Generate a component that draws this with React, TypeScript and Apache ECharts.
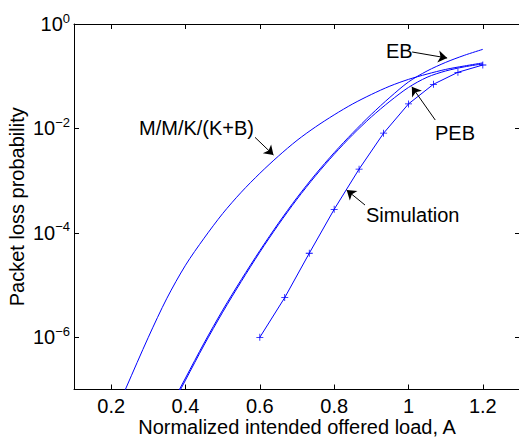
import React, { useEffect, useRef } from "react";
import * as echarts from "echarts";

// Normalized intended offered load (x) and packet loss probability (y)
const loadMMK = [0.22, 0.24, 0.3, 0.35, 0.4, 0.45, 0.5, 0.55, 0.6, 0.65, 0.7, 0.75, 0.8, 0.85, 0.9, 0.95, 1.0, 1.05, 1.1, 1.15, 1.2];
const lossMMK = [5.0e-8, 1.07e-7, 1.0e-6, 5.6e-6, 2.4e-5, 7.9e-5, 2.34e-4, 6.0e-4, 1.38e-3, 2.95e-3, 5.9e-3, 1.07e-2, 1.82e-2, 2.95e-2, 4.47e-2, 6.46e-2, 8.7e-2, 0.11, 0.135, 0.157, 0.18];

const loadEB = [0.37, 0.38, 0.4, 0.45, 0.5, 0.55, 0.6, 0.65, 0.7, 0.75, 0.8, 0.85, 0.9, 0.95, 1.0, 1.05, 1.1, 1.15, 1.2];
const lossEB = [6.3e-8, 8.9e-8, 1.66e-7, 7.76e-7, 3.31e-6, 1.27e-5, 4.57e-5, 1.53e-4, 4.73e-4, 1.33e-3, 3.43e-3, 8.22e-3, 1.86e-2, 3.94e-2, 7.76e-2, 0.126, 0.184, 0.251, 0.327];

const loadPEB = [0.37, 0.38, 0.4, 0.45, 0.5, 0.55, 0.6, 0.65, 0.7, 0.75, 0.8, 0.85, 0.9, 0.95, 1.0, 1.05, 1.1, 1.15, 1.2];
const lossPEB = [5.6e-8, 8.1e-8, 1.51e-7, 7.1e-7, 3.02e-6, 1.17e-5, 4.27e-5, 1.43e-4, 4.42e-4, 1.24e-3, 3.2e-3, 7.6e-3, 1.66e-2, 3.31e-2, 6.1e-2, 9.55e-2, 0.126, 0.151, 0.172];

const loadSim = [0.6, 0.667, 0.733, 0.8, 0.867, 0.933, 1.0, 1.067, 1.133, 1.2];
const lossSim = [1.0e-6, 5.75e-6, 4.07e-5, 2.82e-4, 1.66e-3, 8.1e-3, 2.95e-2, 7.0e-2, 0.119, 0.164];

// Annotation arrows: [fromLoad, fromLoss, toLoad, toLoss]
const arrowEB = [1.0098, 0.291, 1.104, 0.223];
const arrowPEB = [1.072, 0.01449, 1.009, 0.0629];
const arrowMMK = [0.587, 0.00675, 0.6367, 0.00309];
const arrowSim = [0.883, 3.41e-4, 0.8336, 6.6e-4];

const FONT = "'Liberation Sans', Arial, Helvetica, sans-serif";
const BLUE = "#0000ff";
const PLUS = "path://M4,0 L5,0 L5,4 L9,4 L9,5 L5,5 L5,9 L4,9 L4,5 L0,5 L0,4 L4,4 Z";

const zip = (xs: number[], ys: number[]) => xs.map((x, i) => [x, ys[i]]);
const arrow = (a: number[]) => [{ coord: [a[0], a[1]] }, { coord: [a[2], a[3]] }];

export default function App() {
  const ref = useRef<HTMLDivElement>(null);
  useEffect(() => {
    const chart = echarts.init(ref.current!, null, { renderer: "svg" });
    const axisLine = { show: true, onZero: false, lineStyle: { color: "#000", width: 1 } };
    const axisTick = { show: true, inside: true, length: 5, lineStyle: { color: "#000", width: 1 } };
    const expLabel = (v: number) => {
      const e = Math.round(Math.log10(v));
      if (e % 2 !== 0) return "";
      return `{b|10}{e|${e < 0 ? "\u2212" + -e : e}}`;
    };
    const option: any = {
      animation: false,
      grid: { left: 74, top: 24, width: 446, height: 365.5, containLabel: false, outerBoundsMode: "none" },
      xAxis: [
        {
          type: "value",
          min: 0.1,
          max: 1.3,
          splitNumber: 6,
          position: "bottom",
          axisLine,
          axisTick,
          splitLine: { show: false },
          axisLabel: {
            color: "#000",
            fontSize: 20,
            lineHeight: 15,
            fontFamily: FONT,
            margin: 9,
            showMinLabel: false,
            showMaxLabel: false,
          },
          name: "Normalized intended offered load, A",
          nameLocation: "middle",
          nameGap: 28,
          nameMoveOverlap: false,
          nameTextStyle: { color: "#000", fontSize: 20, lineHeight: 18, fontFamily: FONT },
        },
        {
          type: "value",
          min: 0.1,
          max: 1.3,
          splitNumber: 6,
          position: "top",
          axisLine,
          axisTick,
          splitLine: { show: false },
          axisLabel: { show: false },
        },
      ],
      yAxis: [
        {
          type: "log",
          logBase: 100,
          min: 1e-7,
          max: 1,
          position: "left",
          axisLine,
          axisTick,
          splitLine: { show: false },
          axisLabel: {
            color: "#000",
            margin: 4,
            formatter: expLabel,
            showMinLabel: false,
            rich: {
              b: { fontSize: 20, fontFamily: FONT, color: "#000" },
              e: { fontSize: 13, fontFamily: FONT, color: "#000", padding: [0, 0, 12, 0] },
            },
          },
          name: "Packet loss probability",
          nameLocation: "middle",
          nameRotate: 90,
          nameGap: 47,
          nameMoveOverlap: false,
          nameTextStyle: { color: "#000", fontSize: 20, fontFamily: FONT },
        },
        {
          type: "log",
          logBase: 100,
          min: 1e-7,
          max: 1,
          position: "right",
          axisLine,
          axisTick,
          splitLine: { show: false },
          axisLabel: { show: false },
        },
      ],
      series: [
        {
          name: "M/M/K/(K+B)",
          type: "line",
          data: zip(loadMMK, lossMMK),
          showSymbol: false,
          smooth: 0.3,
          lineStyle: { color: BLUE, width: 1 },
          itemStyle: { color: BLUE },
        },
        {
          name: "EB",
          type: "line",
          data: zip(loadEB, lossEB),
          showSymbol: false,
          smooth: 0.3,
          lineStyle: { color: BLUE, width: 1 },
          itemStyle: { color: BLUE },
          markLine: {
            silent: true,
            symbol: ["none", "arrow"],
            symbolSize: 9,
            label: { show: false },
            lineStyle: { color: "#000", width: 1, type: "solid" },
            itemStyle: { color: "#000" },
            data: [arrow(arrowEB), arrow(arrowPEB), arrow(arrowMMK), arrow(arrowSim)],
          },
        },
        {
          name: "PEB",
          type: "line",
          data: zip(loadPEB, lossPEB),
          showSymbol: false,
          smooth: 0.3,
          lineStyle: { color: BLUE, width: 1 },
          itemStyle: { color: BLUE },
        },
        {
          name: "Simulation",
          type: "line",
          data: zip(loadSim, lossSim),
          symbol: PLUS,
          symbolSize: 7,
          showSymbol: true,
          lineStyle: { color: BLUE, width: 1 },
          itemStyle: { color: BLUE },
        },
      ],
      graphic: [
        { type: "text", x: 386, y: 51, style: { text: "EB", fontSize: 20, fontFamily: FONT, fill: "#000", align: "left", verticalAlign: "middle" } },
        { type: "text", x: 435, y: 132.5, style: { text: "PEB", fontSize: 20, fontFamily: FONT, fill: "#000", align: "left", verticalAlign: "middle" } },
        { type: "text", x: 139, y: 127.5, style: { text: "M/M/K/(K+B)", fontSize: 20, fontFamily: FONT, fill: "#000", align: "left", verticalAlign: "middle" } },
        { type: "text", x: 366, y: 215, style: { text: "Simulation", fontSize: 20, fontFamily: FONT, fill: "#000", align: "left", verticalAlign: "middle" } },
      ],
    };
    chart.setOption(option);
    return () => chart.dispose();
  }, []);
  return (
    <div
      ref={ref}
      style={{ position: "absolute", left: 0, top: 0, width: 519, height: 439, background: "#fff" }}
    />
  );
}
